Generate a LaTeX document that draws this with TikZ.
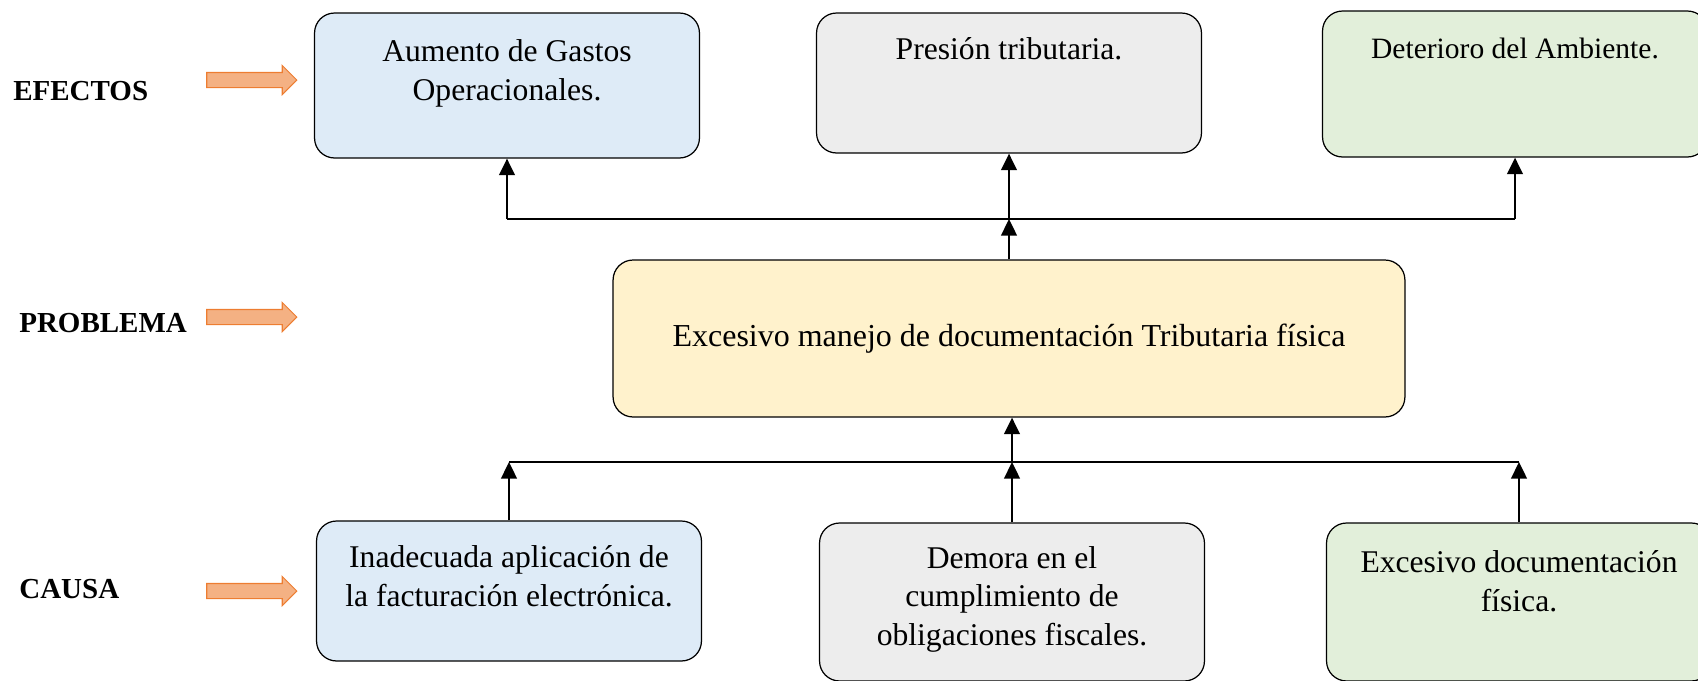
\documentclass[tikz,border=0pt]{standalone}
\usepackage{fontspec}
\setmainfont{Liberation Serif}
\usetikzlibrary{arrows.meta,shapes.arrows}

\definecolor{azul}{HTML}{DEEBF7}
\definecolor{gris}{HTML}{EDEDED}
\definecolor{verde}{HTML}{E2EFDA}
\definecolor{amarillo}{HTML}{FFF2CC}
\definecolor{naranja}{HTML}{F4B183}
\definecolor{naranjaborde}{HTML}{ED7D31}

\tikzset{
  caja/.style={draw, rounded corners=0.4cm, line width=0.7pt, inner sep=0pt, minimum width=7.7cm},
  texto/.style={anchor=base, align=center, inner sep=0pt, font=\fontsize{18}{22}\selectfont},
  etiqueta/.style={anchor=west, inner sep=0pt, font=\bfseries\fontsize{16.5}{20}\selectfont},
  indica/.style={single arrow, draw=naranjaborde, fill=naranja, line width=0.6pt, inner sep=0.14cm,
    minimum height=1.8cm, single arrow head extend=0.14cm},
  flecha/.style={line width=1.4pt, -{Triangle[width=0.31cm,length=0.33cm]}},
  bus/.style={line width=0.7pt}
}

\begin{document}
\begin{tikzpicture}[x=0.02cm, y=-0.02cm]
    \useasboundingbox (0,0) rectangle (1698,680);
    \clip (0,0) rectangle (1698,680);

    \node[etiqueta] (efectos) at (13,91) {EFECTOS};
    \node[etiqueta] (problematxt) at (19,323) {PROBLEMA};
    \node[etiqueta] (causa) at (19,589) {CAUSA};
    \node[indica] (flechaefectos) at (248,80) {};
    \node[indica] (flechaproblema) at (248,317) {};
    \node[indica] (flechacausa) at (248,591) {};

    % efectos
    \node[caja, fill=azul, minimum height=2.9cm] (gastos) at (507,85.5) {};
    \node[texto] (gastostxt) at ([yshift=-1.76cm]gastos.north) {Aumento de Gastos\\Operacionales.};
    \node[caja, fill=gris, minimum height=2.8cm] (presion) at (1009,83) {};
    \node[texto] (presiontxt) at ([yshift=-0.94cm]presion.north) {Presión tributaria.};
    \node[caja, fill=verde, minimum height=2.92cm] (ambiente) at (1515,84) {};
    \node[texto, font=\fontsize{16.8}{20}\selectfont] (ambientetxt) at ([yshift=-0.96cm]ambiente.north) {Deterioro del Ambiente.};

    % problema
    \node[caja, fill=amarillo, minimum width=15.84cm, minimum height=3.14cm,
      font=\fontsize{18.2}{22}\selectfont] (problema) at (1009,338.5) {Excesivo manejo de documentación Tributaria física};

    % causas
    \node[caja, fill=azul, minimum height=2.8cm] (facturacion) at (509,591) {};
    \node[texto] (facturaciontxt) at ([yshift=-1.72cm]facturacion.north) {Inadecuada aplicación de\\la facturación electrónica.};
    \node[caja, fill=gris, minimum height=3.16cm] (demora) at (1012,602) {};
    \node[texto] (demoratxt) at ([yshift=-2.46cm]demora.north) {Demora en el\\cumplimiento de\\obligaciones fiscales.};
    \node[caja, fill=verde, minimum height=3.16cm] (fisica) at (1519,602) {};
    \node[texto] (fisicatxt) at ([yshift=-1.78cm]fisica.north) {Excesivo documentación\\física.};

    \coordinate (arriba) at (0,219);
    \coordinate (abajo) at (0,462);
    \draw[bus] (gastos.south |- arriba) -- (ambiente.south |- arriba);
    \draw[flecha] (gastos.south |- arriba) -- (gastos.south);
    \draw[flecha] (presion.south |- arriba) -- (presion.south);
    \draw[flecha] (ambiente.south |- arriba) -- (ambiente.south);
    \draw[flecha] (problema.north) -- (problema.north |- arriba);

    \draw[bus] (facturacion.north |- abajo) -- (fisica.north |- abajo);
    \draw[flecha] (facturacion.north) -- (facturacion.north |- abajo);
    \draw[flecha] (demora.north) -- (demora.north |- abajo);
    \draw[flecha] (fisica.north) -- (fisica.north |- abajo);
    \draw[flecha] (demora.north |- abajo) -- (problema.south -| demora.north);
\end{tikzpicture}
\end{document}
